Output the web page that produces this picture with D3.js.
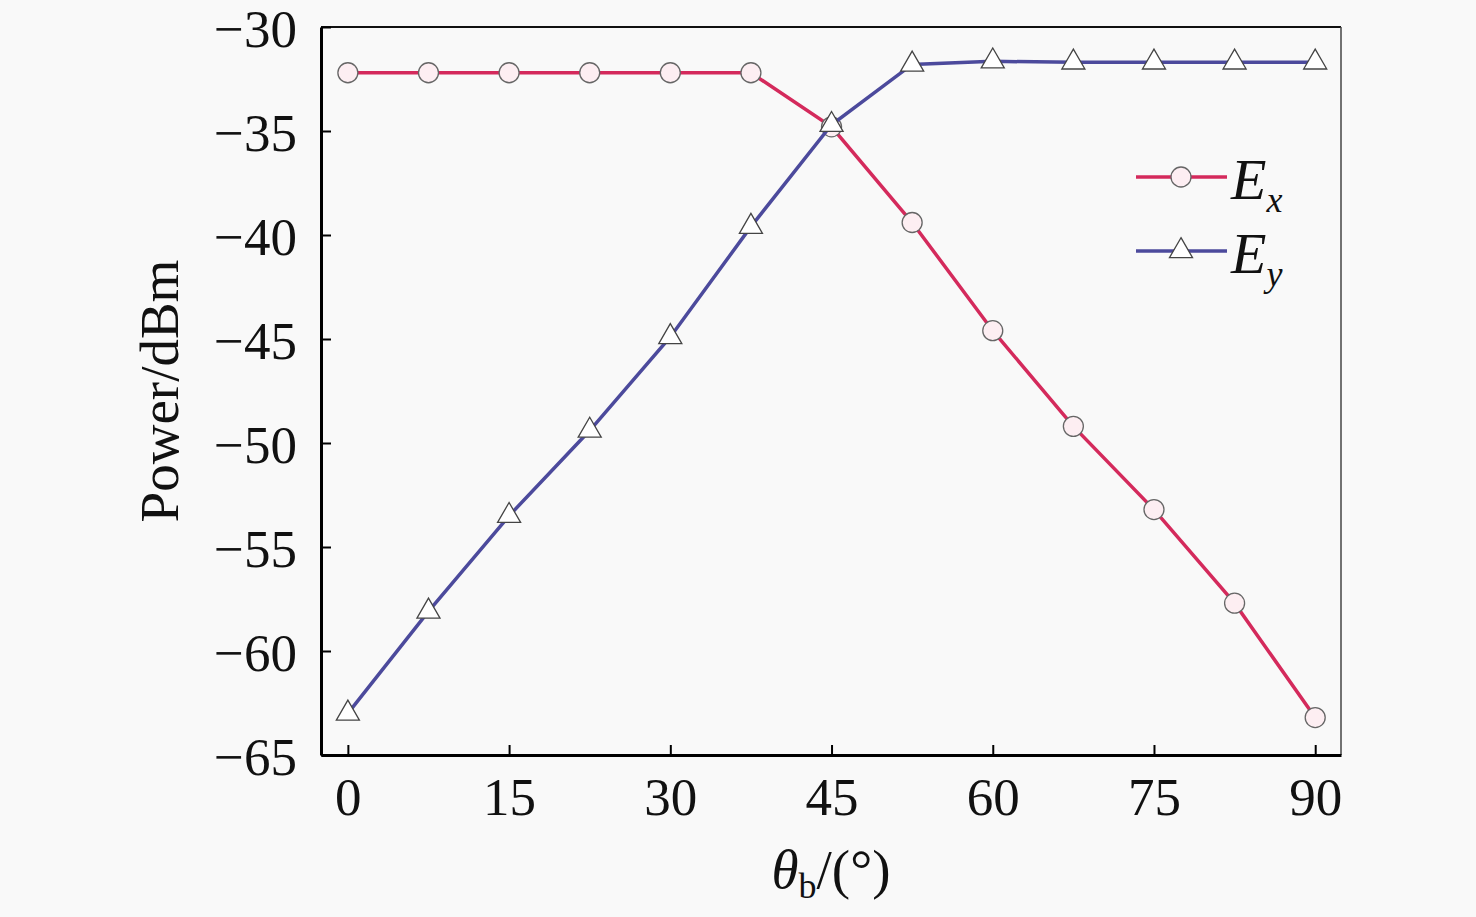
<!DOCTYPE html>
<html>
<head>
<meta charset="utf-8">
<script src="https://cdn.jsdelivr.net/npm/d3@7"></script>
<style>
  body { margin: 0; background: #f9f9f9; }
  svg { display: block; font-family: "Liberation Serif", "Times New Roman", serif; }
</style>
</head>
<body>
<div id="chart"></div>
<script>
// angle (deg)
const angles = [0, 7.5, 15, 22.5, 30, 37.5, 45, 52.5, 60, 67.5, 75, 82.5, 90];
// power (dBm)
const ex = [-32.2, -32.2, -32.2, -32.2, -32.2, -32.2, -34.8, -39.4, -44.6, -49.2, -53.2, -57.7, -63.2];
const ey = [-63.0, -58.1, -53.5, -49.4, -44.9, -39.6, -34.7, -31.8, -31.65, -31.7, -31.7, -31.7, -31.7];
const xTicks = [0, 15, 30, 45, 60, 75, 90];
const yTicks = [-30, -35, -40, -45, -50, -55, -60, -65];

const width = 1476, height = 917;
const margin = {left: 321, right: 135, top: 27, bottom: 162};

const svg = d3.select("#chart").append("svg")
    .attr("width", width)
    .attr("height", height);

const x = d3.scaleLinear().domain([-2.5, 92.4]).range([margin.left, width - margin.right]);
const y = d3.scaleLinear().domain([-65, -30]).range([height - margin.bottom, margin.top]);

const x0 = margin.left, x1 = width - margin.right;
const y0 = height - margin.bottom, y1 = margin.top;

// frame
svg.append("line").attr("x1", x0).attr("x2", x1).attr("y1", y1).attr("y2", y1)
    .attr("stroke", "#111").attr("stroke-width", 2);
svg.append("line").attr("x1", x1).attr("x2", x1).attr("y1", y1).attr("y2", y0)
    .attr("stroke", "#444").attr("stroke-width", 1.5);

const xAxis = svg.append("g")
    .attr("transform", `translate(0,${y0})`)
    .call(d3.axisBottom(x).tickValues(xTicks).tickSizeInner(-10).tickSizeOuter(0).tickPadding(22));
xAxis.select(".domain").attr("stroke", "#000").attr("stroke-width", 3);
xAxis.selectAll(".tick line").attr("stroke-width", 2);
xAxis.selectAll("text").attr("font-size", 53).attr("fill", "#111")
    .attr("font-family", "Liberation Serif");

const yAxis = svg.append("g")
    .attr("transform", `translate(${x0},0)`)
    .call(d3.axisLeft(y).tickValues(yTicks).tickSizeInner(-10).tickSizeOuter(0).tickPadding(24)
        .tickFormat(d => "\u2212" + Math.abs(d)));
yAxis.select(".domain").attr("stroke", "#000").attr("stroke-width", 3);
yAxis.selectAll(".tick line").attr("stroke-width", 2);
yAxis.selectAll("text").attr("font-size", 53).attr("fill", "#111")
    .attr("font-family", "Liberation Serif").attr("dy", "0.36em");

// axis titles
svg.append("text")
    .attr("transform", `translate(178,${(y0 + y1) / 2}) rotate(-90)`)
    .attr("text-anchor", "middle")
    .attr("font-size", 55)
    .attr("fill", "#111")
    .text("Power/dBm");

const xt = svg.append("text")
    .attr("x", (x0 + x1) / 2)
    .attr("y", 888)
    .attr("text-anchor", "middle")
    .attr("font-size", 55)
    .attr("fill", "#111");
xt.append("tspan").attr("font-style", "italic").text("\u03b8");
xt.append("tspan").attr("font-size", 36).attr("dy", 10).text("b");
xt.append("tspan").attr("dy", -10).text("/(\u00b0)");

const line = d3.line()
    .x((d, i) => x(angles[i]))
    .y(d => y(d));

const exColor = "#d42a5c", eyColor = "#4c4a9c";

svg.append("path").datum(ex)
    .attr("d", line).attr("fill", "none")
    .attr("stroke", exColor).attr("stroke-width", 3.5);
svg.selectAll(".exm").data(ex).join("circle")
    .attr("class", "exm")
    .attr("cx", (d, i) => x(angles[i]))
    .attr("cy", d => y(d))
    .attr("r", 10)
    .attr("fill", "#fdeef2")
    .attr("stroke", "#666")
    .attr("stroke-width", 1.3);

svg.append("path").datum(ey)
    .attr("d", line).attr("fill", "none")
    .attr("stroke", eyColor).attr("stroke-width", 3.5);
const tri = d3.symbol().type(d3.symbolTriangle).size(230);
svg.selectAll(".eym").data(ey).join("path")
    .attr("class", "eym")
    .attr("d", tri)
    .attr("transform", (d, i) => `translate(${x(angles[i])},${y(d)})`)
    .attr("fill", "#fff")
    .attr("stroke", "#444")
    .attr("stroke-width", 1.3);

// legend
const legend = [
  {name: "x", color: exColor, shape: "circle", yy: 177},
  {name: "y", color: eyColor, shape: "triangle", yy: 251}
];
const lg = svg.append("g");
legend.forEach(l => {
  lg.append("line").attr("x1", 1136).attr("x2", 1227).attr("y1", l.yy).attr("y2", l.yy)
      .attr("stroke", l.color).attr("stroke-width", 3.5);
  if (l.shape === "circle") {
    lg.append("circle").attr("cx", 1181).attr("cy", l.yy).attr("r", 10)
        .attr("fill", "#fdeef2").attr("stroke", "#666").attr("stroke-width", 1.3);
  } else {
    lg.append("path").attr("d", tri).attr("transform", `translate(1181,${l.yy})`)
        .attr("fill", "#fff").attr("stroke", "#444").attr("stroke-width", 1.3);
  }
  const t = lg.append("text").attr("x", 1231).attr("y", l.yy + 22)
      .attr("font-size", 58).attr("font-style", "italic").attr("fill", "#111");
  t.append("tspan").text("E");
  t.append("tspan").attr("font-size", 36).attr("dy", 13).text(l.name);
});
</script>
</body>
</html>
